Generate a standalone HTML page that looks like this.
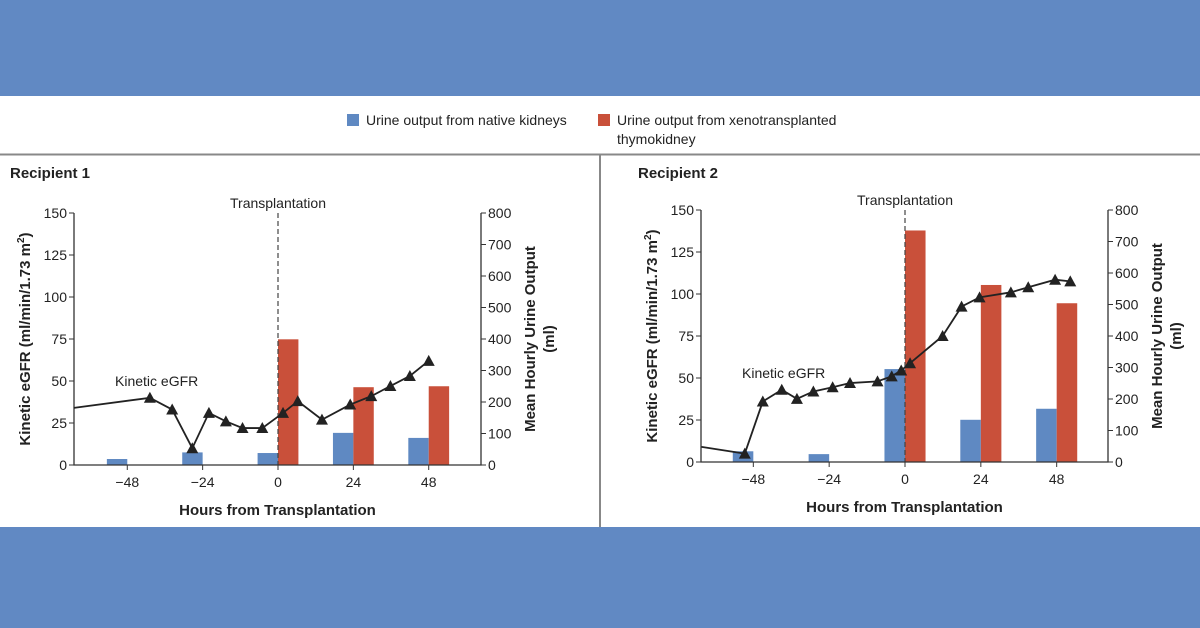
<!DOCTYPE html>
<html><head><meta charset="utf-8"><style>
body{margin:0;width:1200px;height:628px;overflow:hidden;background:#6189c3;font-family:"Liberation Sans",sans-serif}
#panel{position:absolute;left:0;top:96px;width:1200px;height:431px;background:#fff}
svg text{font-family:"Liberation Sans",sans-serif}
</style></head><body>
<div id="panel"></div>
<svg id="svg" width="1200" height="628" style="position:absolute;left:0;top:0">
 <g>
  <rect x="347" y="114" width="12" height="12" fill="#5f89c2"/>
  <text x="366" y="125" font-size="14" fill="#222">Urine output from native kidneys</text>
  <rect x="598" y="114" width="12" height="12" fill="#c9503a"/>
  <text x="617" y="125" font-size="14" fill="#222">Urine output from xenotransplanted</text>
  <text x="617" y="144" font-size="14" fill="#222">thymokidney</text>
 </g>
 <line x1="0" y1="154.5" x2="1200" y2="154.5" stroke="#888" stroke-width="2"/>
 <line x1="600" y1="154" x2="600" y2="527" stroke="#888" stroke-width="2"/>
 <g id="c1"></g>
 <g id="c2"></g>
</svg>
<script>
const ticksX=[-48,-24,0,24,48];
const ticksL=[0,25,50,75,100,125,150];
const ticksR=[0,100,200,300,400,500,600,700,800];
const barHours=[-48,-24,0,24,48];
const r1Native=[19,40,38,102,86];
const r1Xeno=[null,null,399,247,250];
const r1Hours=[-65,-40.8,-33.7,-27.3,-22,-16.6,-11.3,-5,1.6,6.3,14,23,29.7,35.8,42,48];
const r1Egfr=[34,40,33,10,31,26,22,22,31,38,27,36,41,47,53,62];
const r2Native=[34,25,295,134,169];
const r2Xeno=[null,null,735,562,504];
const r2Hours=[-64.4,-50.7,-45,-39,-34.2,-29,-22.9,-17.4,-8.7,-4.2,-1.2,1.6,11.9,17.9,23.6,33.5,39,47.5,52.3];
const r2Egfr=[9,5,36,43,37.6,42,44.5,47,48,51,54.5,58.8,75,92.5,98,101,104,108.5,107.5];
const NS='http://www.w3.org/2000/svg';
function mk(p,t,a){const e=document.createElementNS(NS,t);for(const k in a)e.setAttribute(k,a[k]);p.appendChild(e);return e;}
function draw(g,o,title,nat,xen,hrs,eg){
 const X=h=>o.x0+h*o.px, YL=v=>o.yb-(v/150)*(o.yb-o.yt), YR=v=>o.yb-(v/800)*(o.yb-o.yt);
 const t=mk(g,'text',{x:o.tx,y:178,'font-size':15,'font-weight':'bold',fill:'#222'});t.textContent=title;
 
 
 const bw=6.5*o.px;
 barHours.forEach((h,i)=>{
  const b=mk(g,'rect',{x:X(h)-bw,y:YR(nat[i]),width:bw,height:YR(0)-YR(nat[i]),fill:'#5f89c2'});
  
  
  if(xen[i]!=null){const r=mk(g,'rect',{x:X(h),y:YR(xen[i]),width:bw,height:YR(0)-YR(xen[i]),fill:'#c9503a'});
  
  }
 });
 mk(g,'line',{x1:X(0),y1:o.yt,x2:X(0),y2:o.yb,stroke:'#444','stroke-dasharray':'5,3','stroke-width':1.2});
 const tt=mk(g,'text',{x:X(0),y:o.yt-5,'font-size':14,'text-anchor':'middle',fill:'#222'});tt.textContent='Transplantation';
 
 
 const ax=mk(g,'path',{d:`M${o.xl},${o.yt}V${o.yb}H${o.xr}V${o.yt}`,fill:'none',stroke:'#333','stroke-width':1.3});
 
 
 ticksL.forEach(v=>{mk(g,'line',{x1:o.xl-5,x2:o.xl,y1:YL(v),y2:YL(v),stroke:'#333'});
  const l=mk(g,'text',{x:o.xl-7,y:YL(v)+5,'font-size':14,'text-anchor':'end',fill:'#222'});l.textContent=v;
  
  });
 ticksR.forEach(v=>{mk(g,'line',{x1:o.xr,x2:o.xr+5,y1:YR(v),y2:YR(v),stroke:'#333'});
  const l=mk(g,'text',{x:o.xr+7,y:YR(v)+5,'font-size':14,fill:'#222'});l.textContent=v;
  
  });
 ticksX.forEach(v=>{mk(g,'line',{x1:X(v),x2:X(v),y1:o.yb,y2:o.yb+5,stroke:'#333'});
  const l=mk(g,'text',{x:X(v),y:o.yb+22,'font-size':14,'text-anchor':'middle',fill:'#222'});l.textContent=v<0?'\u2212'+(-v):v;
  
  });
 const xt=mk(g,'text',{x:(o.xl+o.xr)/2,y:o.yb+50,'font-size':15,'font-weight':'bold','text-anchor':'middle',fill:'#222'});xt.textContent='Hours from Transplantation';
 
 
 const cy=(o.yt+o.yb)/2;
 const yl=mk(g,'text',{transform:`translate(${o.xl-44},${cy}) rotate(-90)`,'font-size':15,'font-weight':'bold','text-anchor':'middle',fill:'#222'});
 yl.innerHTML='Kinetic eGFR (ml/min/1.73 m<tspan dy="-6" font-size="10">2</tspan><tspan dy="6">)</tspan>';
 
 
 const yr=mk(g,'text',{transform:`translate(${o.xr+62},${cy}) rotate(-90)`,'font-size':15,'font-weight':'bold','text-anchor':'middle',fill:'#222'});
 yr.innerHTML=`<tspan x="0" dy="-8">Mean Hourly Urine Output</tspan><tspan x="0" dy="19">(ml)</tspan>`;
 
 
 const pl=mk(g,'polyline',{points:hrs.map((h,i)=>X(h)+','+YL(eg[i])).join(' '),fill:'none',stroke:'#222','stroke-width':1.8});
 
 
 hrs.forEach((h,i)=>{if(i===0)return;const x=X(h),y=YL(eg[i]);
  const m=mk(g,'path',{d:`M${x},${y-6}L${x+6},${y+5}L${x-6},${y+5}Z`,fill:'#222'});
  
  });
 const kl=mk(g,'text',{x:o.klx,y:o.kly,'font-size':14,fill:'#222'});kl.textContent='Kinetic eGFR';
 
 
}
draw(document.getElementById('c1'),{x0:278,px:3.14,xl:74,xr:481,yt:213,yb:465,tx:10,klx:115,kly:386},'Recipient 1',r1Native,r1Xeno,r1Hours,r1Egfr);
draw(document.getElementById('c2'),{x0:905,px:3.16,xl:701,xr:1108,yt:210,yb:462,tx:638,klx:742,kly:378},'Recipient 2',r2Native,r2Xeno,r2Hours,r2Egfr);
</script>
</body></html>
